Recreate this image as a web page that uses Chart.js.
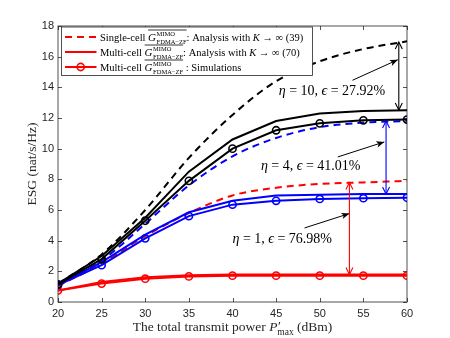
<!DOCTYPE html>
<html>
<head>
<meta charset="utf-8">
<script src="https://cdn.jsdelivr.net/npm/chart.js@4.4.0/dist/chart.umd.min.js"></script>
<style>
  html, body { margin: 0; padding: 0; background: #fff; }
  #wrap { width: 450px; height: 338px; }
</style>
</head>
<body>
<div id="wrap"><canvas id="esgChart"></canvas></div>
<script>
// Total transmit power P'_max (dBm)
const powerDbm = [20, 25, 30, 35, 40, 45, 50, 55, 60];

// eta = 10 (black)
const singleEta10 = [1.2, 3.1, 6.0, 9.4, 12.2, 14.4, 15.7, 16.5, 17.0];
const multiEta10  = [1.2, 3.0, 5.5, 8.5, 10.6, 11.8, 12.3, 12.45, 12.5];
const simEta10    = [1.15, 2.8, 5.3, 7.9, 10.0, 11.2, 11.65, 11.85, 11.9];

// eta = 4 (blue)
const singleEta4 = [1.1, 2.7, 5.1, 7.6, 9.5, 10.7, 11.4, 11.7, 11.8];
const multiEta4  = [1.1, 2.6, 4.4, 5.85, 6.6, 6.95, 7.0, 7.05, 7.05];
const simEta4    = [1.1, 2.4, 4.15, 5.6, 6.35, 6.6, 6.72, 6.77, 6.8];

// eta = 1 (red)
const singleEta1 = [1.05, 2.5, 4.3, 5.8, 6.95, 7.45, 7.7, 7.8, 7.9];
const multiEta1  = [0.75, 1.3, 1.62, 1.74, 1.8, 1.8, 1.8, 1.8, 1.8];
const simEta1    = [0.75, 1.2, 1.52, 1.67, 1.72, 1.72, 1.72, 1.72, 1.72];

const xTicks = [20, 25, 30, 35, 40, 45, 50, 55, 60];
const yTicks = [0, 2, 4, 6, 8, 10, 12, 14, 16, 18];

// gap labels
const gapEta = ['10', '4', '1'];
const gapEps = ['27.92', '41.01', '76.98'];

const SERIF = '"Liberation Serif", "Times New Roman", serif';
const SANS = '"Liberation Sans", Arial, sans-serif';
const AXIS = '#262626';
const colorEta = ['#000000', '#0000ff', '#ff0000'];

// annotation placement in data units (label centre, pointer arrow, gap arrow)
const gapMarks = [
  { label: [51.4, 13.85], from: [53.75, 14.46], to: [58.95, 15.8], gapX: 59.06, gapTop: 16.95, gapBot: 12.52 },
  { label: [48.96, 8.92], from: [52.07, 9.46], to: [57.4, 10.44], gapX: 57.6, gapTop: 11.8, gapBot: 7.05 },
  { label: [45.7, 4.2], from: [48.26, 4.83], to: [53.4, 5.77], gapX: 53.4, gapTop: 7.8, gapBot: 1.8 }
];

function series(values, color, dashed, markers) {
  return {
    data: values.map((v, i) => ({ x: powerDbm[i], y: v })),
    borderColor: color,
    backgroundColor: color,
    borderWidth: 2,
    borderDash: dashed ? [7, 5] : [],
    pointRadius: markers ? 3.6 : 0,
    pointHoverRadius: markers ? 3.6 : 0,
    pointBorderWidth: 1.6,
    pointBorderColor: color,
    pointBackgroundColor: 'rgba(0,0,0,0)',
    cubicInterpolationMode: dashed ? 'monotone' : 'default',
    tension: 0,
    fill: false
  };
}

function font(size, italic) {
  return (italic ? 'italic ' : '') + size + 'px ' + SERIF;
}

// runs: {t, size, it, dy}
function richWidth(ctx, runs) {
  let w = 0;
  runs.forEach(r => { ctx.font = font(r.size, r.it); w += ctx.measureText(r.t).width + (r.gap || 0); });
  return w;
}

function drawRich(ctx, runs, x, y, align) {
  let cx = align === 'center' ? x - richWidth(ctx, runs) / 2 : x;
  runs.forEach(r => {
    ctx.font = font(r.size, r.it);
    ctx.fillText(r.t, cx, y + (r.dy || 0));
    cx += ctx.measureText(r.t).width + (r.gap || 0);
  });
  return cx;
}

// overline G with MIMO superscript and FDMA-ZF subscript
function drawGbar(ctx, x, y, size) {
  ctx.font = font(size * 1.05, true);
  ctx.fillText('G', x, y);
  const gw = ctx.measureText('G').width;
  const small = size * 0.62;
  ctx.font = font(small, false);
  ctx.fillText('MIMO', x + gw + 0.5, y - size * 0.4);
  const w1 = ctx.measureText('MIMO').width;
  ctx.fillText('FDMA\u2212ZF', x + gw + 0.5, y + size * 0.32);
  const w2 = ctx.measureText('FDMA\u2212ZF').width;
  const total = gw + 0.5 + Math.max(w1, w2);
  ctx.lineWidth = 0.8;
  ctx.beginPath();
  ctx.moveTo(x, y - size * 1.0);
  ctx.lineTo(x + total, y - size * 1.0);
  ctx.stroke();
  return total;
}

function headV(ctx, x, y, dir, len, half) {
  ctx.beginPath();
  ctx.moveTo(x - half, y - dir * len);
  ctx.lineTo(x, y);
  ctx.lineTo(x + half, y - dir * len);
  ctx.stroke();
}

const decorPlugin = {
  id: 'decor',
  beforeDatasetsDraw(chart) {
    const { ctx, chartArea: a, scales } = chart;
    ctx.save();
    ctx.strokeStyle = AXIS;
    ctx.lineWidth = 0.8;
    ctx.strokeRect(a.left, a.top, a.right - a.left, a.bottom - a.top);
    ctx.beginPath();
    xTicks.forEach(v => {
      const px = Math.round(scales.x.getPixelForValue(v)) + 0.5;
      ctx.moveTo(px, a.bottom); ctx.lineTo(px, a.bottom - 4);
      ctx.moveTo(px, a.top); ctx.lineTo(px, a.top + 4);
    });
    yTicks.forEach(v => {
      const py = Math.round(scales.y.getPixelForValue(v)) + 0.5;
      ctx.moveTo(a.left, py); ctx.lineTo(a.left + 4, py);
      ctx.moveTo(a.right, py); ctx.lineTo(a.right - 4, py);
    });
    ctx.stroke();
    ctx.restore();
  },
  afterDatasetsDraw(chart) {
    const { ctx, chartArea: a, scales } = chart;
    const X = v => scales.x.getPixelForValue(v);
    const Y = v => scales.y.getPixelForValue(v);
    ctx.save();
    ctx.textBaseline = 'alphabetic';

    // gap annotations
    gapMarks.forEach((m, i) => {
      ctx.fillStyle = '#000';
      drawRich(ctx, [
        { t: '\u03b7', size: 14, it: true },
        { t: ' = ' + gapEta[i] + ', ', size: 14 },
        { t: '\u03f5', size: 14, it: true },
        { t: ' = ' + gapEps[i] + '%', size: 14 }
      ], X(m.label[0]), Y(m.label[1]) + 5, 'center');

      // pointer arrow
      const x1 = X(m.from[0]), y1 = Y(m.from[1]), x2 = X(m.to[0]), y2 = Y(m.to[1]);
      ctx.strokeStyle = '#000';
      ctx.fillStyle = '#000';
      ctx.lineWidth = 1;
      ctx.beginPath(); ctx.moveTo(x1, y1); ctx.lineTo(x2, y2); ctx.stroke();
      const ang = Math.atan2(y2 - y1, x2 - x1);
      ctx.save();
      ctx.translate(x2, y2);
      ctx.rotate(ang);
      ctx.beginPath();
      ctx.moveTo(0, 0); ctx.lineTo(-8, -3.2); ctx.lineTo(-6, 0); ctx.lineTo(-8, 3.2);
      ctx.closePath(); ctx.fill();
      ctx.restore();

      // double arrow between single-cell and multi-cell
      const gx = X(m.gapX), gt = Y(m.gapTop), gb = Y(m.gapBot);
      ctx.strokeStyle = colorEta[i];
      ctx.lineWidth = 1.1;
      ctx.beginPath(); ctx.moveTo(gx, gt); ctx.lineTo(gx, gb); ctx.stroke();
      headV(ctx, gx, gt, -1, 7, 3.5);
      headV(ctx, gx, gb, 1, 7, 3.5);
    });

    // axis titles
    ctx.fillStyle = AXIS;
    const runsX = [
      { t: 'The total transmit power ', size: 13.5 },
      { t: 'P', size: 13.5, it: true, gap: 0.5 },
      { t: '\u2032', size: 13.5, dy: -1, gap: -3.5 },
      { t: 'max', size: 9.5, dy: 3.5 },
      { t: ' (dBm)', size: 13.5 }
    ];
    drawRich(ctx, runsX, (a.left + a.right) / 2, 331, 'center');

    ctx.save();
    ctx.translate(31.5, (a.top + a.bottom) / 2);
    ctx.rotate(-Math.PI / 2);
    drawRich(ctx, [{ t: 'ESG (nat/s/Hz)', size: 13.5 }], 0, 4.5, 'center');
    ctx.restore();

    // legend box
    const lx = a.left + 3.5, ly = a.top + 1, lw = 251, lh = 48.5;
    ctx.fillStyle = '#fff';
    ctx.fillRect(lx, ly, lw, lh);
    ctx.strokeStyle = AXIS;
    ctx.lineWidth = 0.8;
    ctx.strokeRect(lx, ly, lw, lh);

    const rows = [
      { pre: 'Single-cell ', post: [{ t: ': Analysis with ', size: 10.5 }, { t: 'K', size: 10.5, it: true }, { t: ' \u2192 \u221e (39)', size: 10.5 }], dash: true, mark: false },
      { pre: 'Multi-cell ', post: [{ t: ': Analysis with ', size: 10.5 }, { t: 'K', size: 10.5, it: true }, { t: ' \u2192 \u221e (70)', size: 10.5 }], dash: false, mark: false },
      { pre: 'Multi-cell ', post: [{ t: ' : Simulations', size: 10.5 }], dash: false, mark: true }
    ];
    rows.forEach((r, k) => {
      const cy = ly + 10 + k * 15;
      ctx.strokeStyle = '#ff0000';
      ctx.lineWidth = 2;
      ctx.setLineDash(r.dash ? [7, 5] : []);
      ctx.beginPath(); ctx.moveTo(lx + 3.5, cy); ctx.lineTo(lx + 35, cy); ctx.stroke();
      ctx.setLineDash([]);
      if (r.mark) {
        ctx.lineWidth = 1.6;
        ctx.beginPath(); ctx.arc(lx + 19.2, cy, 3.6, 0, Math.PI * 2); ctx.stroke();
      }
      ctx.fillStyle = '#000';
      ctx.strokeStyle = '#000';
      let tx = drawRich(ctx, [{ t: r.pre, size: 10.5 }], lx + 38.5, cy + 3.5);
      tx += drawGbar(ctx, tx, cy + 3.5, 10.5);
      drawRich(ctx, r.post, tx, cy + 3.5);
    });

    ctx.restore();
  }
};

const ctx = document.getElementById('esgChart').getContext('2d');
new Chart(ctx, {
  type: 'line',
  data: {
    datasets: [
      series(simEta10, colorEta[0], false, true),
      series(multiEta10, colorEta[0], false, false),
      series(singleEta10, colorEta[0], true, false),
      series(simEta4, colorEta[1], false, true),
      series(multiEta4, colorEta[1], false, false),
      series(singleEta4, colorEta[1], true, false),
      series(simEta1, colorEta[2], false, true),
      series(multiEta1, colorEta[2], false, false),
      series(singleEta1, colorEta[2], true, false)
    ]
  },
  options: {
    responsive: true,
    maintainAspectRatio: false,
    animation: false,
    events: [],
    layout: { padding: { left: 0, right: 43, top: 26, bottom: 0 } },
    plugins: { legend: { display: false }, tooltip: { enabled: false } },
    scales: {
      x: {
        type: 'linear',
        min: 20,
        max: 60,
        afterBuildTicks: s => { s.ticks = xTicks.map(v => ({ value: v })); },
        afterFit: s => { s.height = 36; },
        grid: { display: false, drawTicks: false, tickLength: 0 },
        border: { display: false },
        ticks: { color: AXIS, font: { family: SANS, size: 11 }, padding: 5, maxRotation: 0, autoSkip: false }
      },
      y: {
        type: 'linear',
        min: 0,
        max: 18,
        afterBuildTicks: s => { s.ticks = yTicks.map(v => ({ value: v })); },
        afterFit: s => { s.width = 58; },
        grid: { display: false, drawTicks: false, tickLength: 0 },
        border: { display: false },
        ticks: { color: AXIS, font: { family: SANS, size: 11 }, padding: 4, autoSkip: false }
      }
    }
  },
  plugins: [decorPlugin]
});
</script>
</body>
</html>
